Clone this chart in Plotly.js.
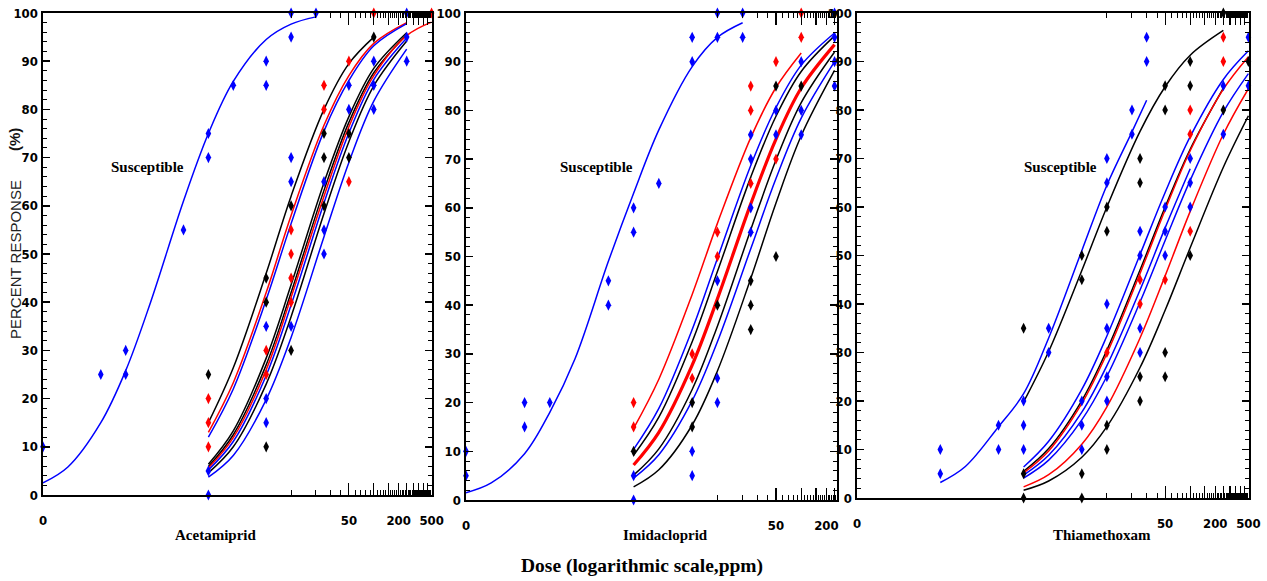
<!DOCTYPE html>
<html><head><meta charset="utf-8">
<script src="https://cdn.plot.ly/plotly-3.0.1.min.js"></script>
<style>html,body{margin:0;padding:0;background:#fff}#chart{width:1267px;height:581px}</style>
</head><body><div id="chart"></div>
<script>
// ---------- doses (ppm) ----------
const doseSus12 = [0.01, 0.02, 0.05, 0.1, 0.2, 0.5, 1, 2, 5, 10, 20];
const doseSus3  = [0.1, 0.2, 0.5, 1, 2, 5, 10, 20, 30];
const doseRes   = [1, 2, 5, 10, 25, 50, 100, 250, 500];

// ---------- tick labels ----------
const xMajorVals = [0.01, 50, 100, 150, 200, 250, 300, 350, 400, 450, 500];
const xMajorText = ['0', '50', '', '', '200', '', '', '', '', '', '500'];
const yTickVals  = [0, 10, 20, 30, 40, 50, 60, 70, 80, 90, 100];

// ---------- Acetamiprid: fitted curves (% response) ----------
const acSus    = [2.5, 5.8, 15, 25.8, 40, 61, 75, 85.8, 94.5, 97.7, 99.2];
const acBlackA = [15, 26.4, 46, 62, 80, 89.5, 95];
const acRedA   = [13, 23.3, 42, 58, 76.7, 87, 93.7, 98];
const acBlueA  = [12, 22, 40.5, 56.3, 75.5, 86, 93.2, 97.8];
const acBlackB1 = [6.4, 13.3, 28.4, 43.6, 64.8, 78.5, 88.5, 95.9];
const acBlackB2 = [5.9, 12.5, 27, 42, 63.2, 77.3, 87.6, 95.5];
const acRedB    = [5.6, 11.9, 26, 41, 62, 76.4, 87, 95.3, 98.1];
const acBlueB1  = [5.2, 11.1, 24.8, 39.4, 60.6, 75.1, 86.2, 94.8];
const acBlackB3 = [4.6, 10, 23, 37, 58.4, 73.3, 84.9, 94.2];
const acBlueB2  = [3.7, 8.2, 19.8, 32.7, 53.6, 69, 81.7, 92.5];
// Acetamiprid: observed points
const acBlueX  = [0.01, 0.05, 0.1, 0.1, 0.5, 1, 1, 2, 5, 5, 10, 10, 20, 1, 1, 5, 5, 5, 10, 10, 10, 25, 25, 25, 50, 50, 100, 100, 100, 250, 250, 250];
const acBlueY  = [10, 25, 30, 25, 55, 75, 70, 85, 90, 85, 100, 95, 100, 5, 0, 35, 20, 15, 70, 65, 35, 65, 55, 50, 85, 80, 90, 85, 80, 100, 95, 90];
const acRedX   = [1, 1, 1, 5, 5, 10, 10, 10, 10, 25, 25, 50, 50, 100, 500];
const acRedY   = [20, 15, 10, 30, 25, 55, 50, 45, 40, 85, 80, 90, 65, 100, 100];
const acBlackX = [1, 5, 5, 5, 10, 10, 25, 25, 25, 50, 50, 100];
const acBlackY = [25, 45, 40, 10, 60, 30, 75, 70, 60, 75, 70, 95];

// ---------- Imidacloprid ----------
const imSus     = [1.5, 3.5, 9.5, 18, 29, 49, 63, 76, 89, 95, 98];
const imRedThin = [14.7, 24.8, 42.2, 56.8, 74.4, 84.7, 91.8];
const imBlue1   = [10.4, 18.8, 35, 49.6, 68.7, 80.6, 89.3, 95.9];
const imBlack1  = [9.2, 17, 32.5, 46.9, 66.3, 78.8, 88, 95.3];
const imRedThick = [7.2, 13.9, 27.7, 41.3, 60.8, 74.1, 84.6, 93.5];
const imBlack2  = [5.1, 10.5, 22.7, 35.7, 55.5, 69.8, 81.6, 92];
const imBlue2   = [4.5, 9.3, 20.4, 32.5, 51.6, 66, 78.4, 90];
const imBlack3  = [2.7, 6.2, 15.4, 26.5, 45.5, 61, 74.8, 88.2];
const imBlueX  = [0.01, 0.01, 0.05, 0.05, 0.1, 0.5, 0.5, 1, 1, 2, 5, 5, 10, 10, 20, 20, 1, 1, 5, 5, 10, 10, 10, 25, 25, 25, 25, 50, 50, 100, 100, 100, 250, 250, 250, 250];
const imBlueY  = [10, 5, 20, 15, 20, 45, 40, 60, 55, 65, 95, 90, 100, 95, 100, 95, 5, 0, 10, 5, 45, 25, 20, 75, 70, 60, 55, 80, 75, 90, 80, 75, 100, 95, 90, 85];
const imRedX   = [1, 1, 5, 5, 10, 10, 25, 25, 25, 50, 50, 100, 100];
const imRedY   = [20, 15, 30, 25, 55, 50, 85, 80, 65, 90, 70, 100, 95];
const imBlackX = [1, 5, 5, 10, 25, 25, 25, 50, 50, 100];
const imBlackY = [10, 20, 15, 40, 45, 40, 35, 85, 50, 85];

// ---------- Thiamethoxam ----------
const thSus    = [3.2, 6.5, 14.7, 21.5, 33, 51, 64.5, 75.5, 82];
const thBlackT = [19.8, 30.2, 46.9, 60, 75.6, 84.8, 91.3, 96.4];
const thBlue1  = [6.4, 11.7, 22.4, 33.4, 50.2, 63, 74.5, 86.3, 92.2];
const thBlack1 = [5.5, 10.2, 20.1, 30.5, 47, 60, 71.9, 84.5];
const thRed1   = [5.2, 9.7, 19.5, 29.8, 46.3, 59.4, 71.6, 84.3, 91];
const thBlue2  = [4.7, 8.8, 17.7, 27.3, 42.9, 55.7, 67.9];
const thBlue3  = [4.1, 7.8, 16.1, 25.1, 40.4, 53.1, 65.5, 79.6, 87.5];
const thRed2   = [2.3, 4.8, 11.1, 18.8, 33, 45.8, 59.1, 75, 84.4];
const thBlack2 = [1.6, 3.5, 8.4, 14.7, 26.9, 38.7, 51.6, 68.2, 78.8];
const thBlueX  = [0.1, 0.1, 0.5, 0.5, 1, 1, 1, 2, 2, 5, 5, 5, 10, 10, 10, 10, 10, 10, 20, 20, 25, 25, 25, 25, 30, 30, 50, 50, 50, 100, 100, 100, 250, 250, 500, 500];
const thBlueY  = [10, 5, 15, 10, 20, 15, 10, 35, 30, 20, 15, 10, 70, 65, 40, 35, 25, 20, 80, 75, 55, 50, 35, 30, 95, 90, 60, 55, 50, 70, 65, 60, 85, 75, 95, 85];
const thRedX   = [10, 25, 25, 50, 100, 100, 100, 250, 250];
const thRedY   = [30, 45, 40, 45, 80, 75, 55, 95, 90];
const thBlackX = [1, 1, 1, 5, 5, 5, 5, 10, 10, 10, 10, 25, 25, 25, 25, 50, 50, 50, 50, 100, 100, 100, 250, 250, 500];
const thBlackY = [35, 5, 0, 50, 45, 5, 0, 60, 55, 15, 10, 70, 65, 25, 20, 85, 80, 30, 25, 90, 85, 50, 100, 80, 90];

// ---------- build ----------
const BLUE = '#0000ff', RED = '#ff0000', BLACK = '#000000';
const traces = [];
function curve(ax, doses, vals, color, w) {
  traces.push({type: 'scatter', mode: 'lines', xaxis: 'x' + ax, yaxis: 'y' + ax,
    x: doses.slice(0, vals.length), y: vals, hoverinfo: 'skip', cliponaxis: false,
    line: {color: color, width: w || 1.5, shape: 'spline', smoothing: 1}});
}
function pts(ax, xs, ys, color) {
  traces.push({type: 'scatter', mode: 'markers', xaxis: 'x' + ax, yaxis: 'y' + ax,
    x: xs, y: ys, cliponaxis: false,
    marker: {symbol: 'diamond-tall', size: 8, color: color}});
}
// panel 1
curve('', doseSus12, acSus, BLUE);
curve('', doseRes, acBlackA, BLACK); curve('', doseRes, acRedA, RED); curve('', doseRes, acBlueA, BLUE);
curve('', doseRes, acBlackB1, BLACK); curve('', doseRes, acBlackB2, BLACK); curve('', doseRes, acRedB, RED);
curve('', doseRes, acBlueB1, BLUE); curve('', doseRes, acBlackB3, BLACK); curve('', doseRes, acBlueB2, BLUE);
pts('', acBlueX, acBlueY, BLUE); pts('', acRedX, acRedY, RED); pts('', acBlackX, acBlackY, BLACK);
// panel 2
curve('2', doseSus12, imSus, BLUE);
curve('2', doseRes, imRedThin, RED); curve('2', doseRes, imBlue1, BLUE); curve('2', doseRes, imBlack1, BLACK);
curve('2', doseRes, imRedThick, RED, 3.2); curve('2', doseRes, imBlack2, BLACK); curve('2', doseRes, imBlue2, BLUE);
curve('2', doseRes, imBlack3, BLACK);
pts('2', imBlueX, imBlueY, BLUE); pts('2', imRedX, imRedY, RED); pts('2', imBlackX, imBlackY, BLACK);
// panel 3
curve('3', doseSus3, thSus, BLUE); curve('3', doseRes, thBlackT, BLACK);
curve('3', doseRes, thBlue1, BLUE); curve('3', doseRes, thBlack1, BLACK); curve('3', doseRes, thRed1, RED);
curve('3', doseRes, thBlue2, BLUE); curve('3', doseRes, thBlue3, BLUE); curve('3', doseRes, thRed2, RED);
curve('3', doseRes, thBlack2, BLACK);
pts('3', thBlueX, thBlueY, BLUE); pts('3', thRedX, thRedY, RED); pts('3', thBlackX, thBlackY, BLACK);

// minor tick positions on dose axis
const xMinorVals = [10, 20, 30, 40, 60, 70, 80, 90];
for (let v = 110; v < 500; v += 10) if (v % 50) xMinorVals.push(v);

const W = 1267, H = 581;
const tickFont = {family: 'Liberation Sans Narrow, DejaVu Sans Condensed, Arial Narrow, sans-serif', size: 13, color: '#000', weight: 'bold'};
function xax(l, r, rightLog, anchor) {
  return {type: 'log', domain: [l / W, r / W], range: [-2, rightLog], anchor: anchor,
    showline: true, linecolor: '#000', linewidth: 2.2, mirror: 'ticks', showgrid: false, zeroline: false,
    tickmode: 'array', tickvals: xMajorVals, ticktext: xMajorText, ticks: 'inside', ticklen: 12, tickwidth: 1.2, tickcolor: '#000',
    ticklabelstandoff: 12, tickfont: tickFont,
    minor: {tickmode: 'array', tickvals: xMinorVals, ticks: 'inside', ticklen: 5, tickwidth: 1, tickcolor: '#000', showgrid: false}};
}
function yax(top, bottom, anchor) {
  return {domain: [1 - bottom / H, 1 - top / H], range: [0, 100], anchor: anchor,
    showline: true, linecolor: '#000', linewidth: 1.6, mirror: 'ticks', showgrid: false, zeroline: false,
    tickmode: 'array', tickvals: yTickVals, ticks: 'inside', ticklen: 7, tickwidth: 1.5, tickcolor: '#000',
    ticklabelstandoff: 1, tickfont: tickFont,
    minor: {dtick: 2, ticks: 'inside', ticklen: 4, tickwidth: 1, tickcolor: '#000', showgrid: false}};
}
const serifB = {family: 'Liberation Serif, Times New Roman, serif', weight: 'bold', color: '#000'};
function ann(text, px, py, size, extra) {
  return Object.assign({text: text, x: px / W, y: 1 - py / H, xref: 'paper', yref: 'paper',
    showarrow: false, xanchor: 'center', yanchor: 'middle', font: Object.assign({}, serifB, {size: size})}, extra || {});
}
const layout = {
  width: W, height: H, margin: {l: 0, r: 0, t: 0, b: 0}, showlegend: false,
  paper_bgcolor: '#fff', plot_bgcolor: '#fff',
  xaxis: xax(43, 432, 2.704, 'y'), yaxis: yax(13, 495, 'x'),
  xaxis2: xax(466, 837, 2.427, 'y2'), yaxis2: yax(13, 500, 'x2'),
  xaxis3: xax(857, 1249, 2.706, 'y3'), yaxis3: yax(13, 498, 'x3'),
  annotations: [
    ann('Susceptible', 147, 167, 15), ann('Susceptible', 596, 167, 15), ann('Susceptible', 1060, 167, 15),
    ann('Acetamiprid', 215, 535, 15), ann('Imidacloprid', 665, 535, 15), ann('Thiamethoxam', 1102, 535, 15),
    ann('Dose (logarithmic scale,ppm)', 642, 566, 19.5),
    ann('PERCENT RESPONSE', 15, 260, 15, {textangle: -90, font: {family: 'Liberation Sans, Arial, sans-serif', size: 15, color: '#222'}}),
    ann('(%)', 14, 140, 15, {textangle: -90, font: {family: 'Liberation Sans, Arial, sans-serif', size: 15, color: '#111', weight: 'bold'}})
  ]
};
Plotly.newPlot('chart', traces, layout, {displayModeBar: false, staticPlot: true});
</script></body></html>
